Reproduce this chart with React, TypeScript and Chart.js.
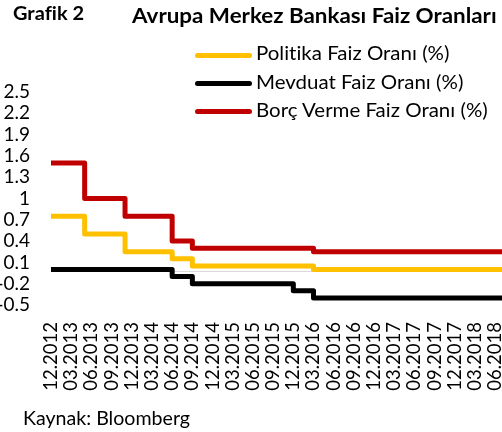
import React, { useEffect, useRef } from "react";
import { Chart, registerables } from "chart.js";

Chart.register(...registerables);

const FONT = "Lato, 'Noto Sans', sans-serif";

// Monthly categories: 12.2012 ... 07.2018
const START_YEAR = 2012;
const START_MONTH = 12;
const MONTH_COUNT = 68;
const MONTH_LABELS: string[] = [];
for (let i = 0; i < MONTH_COUNT; i++) {
  const m = ((START_MONTH - 1 + i) % 12) + 1;
  const y = START_YEAR + Math.floor((START_MONTH - 1 + i) / 12);
  MONTH_LABELS.push(String(m).padStart(2, "0") + "." + y);
}

const TICK_LABELS = [
  "12.2012", "03.2013", "06.2013", "09.2013", "12.2013", "03.2014", "06.2014",
  "09.2014", "12.2014", "03.2015", "06.2015", "09.2015", "12.2015", "03.2016",
  "06.2016", "09.2016", "12.2016", "03.2017", "06.2017", "09.2017", "12.2017",
  "03.2018", "06.2018",
];

const Y_TICKS = [-0.5, -0.2, 0.1, 0.4, 0.7, 1, 1.3, 1.6, 1.9, 2.2, 2.5];

// Politika Faiz Oranı (%)
const POLITIKA = [
  0.75, // Dec 2012
  0.75, 0.75, 0.75, 0.75, 0.5, 0.5, 0.5, 0.5, 0.5, 0.5, 0.25, 0.25, // 2013
  0.25, 0.25, 0.25, 0.25, 0.25, 0.15, 0.15, 0.15, 0.05, 0.05, 0.05, 0.05, // 2014
  0.05, 0.05, 0.05, 0.05, 0.05, 0.05, 0.05, 0.05, 0.05, 0.05, 0.05, 0.05, // 2015
  0.05, 0.05, 0, 0, 0, 0, 0, 0, 0, 0, 0, 0, // 2016
  0, 0, 0, 0, 0, 0, 0, 0, 0, 0, 0, 0, // 2017
  0, 0, 0, 0, 0, 0, 0, // 2018
];

// Mevduat Faiz Oranı (%)
const MEVDUAT = [
  0, // Dec 2012
  0, 0, 0, 0, 0, 0, 0, 0, 0, 0, 0, 0, // 2013
  0, 0, 0, 0, 0, -0.1, -0.1, -0.1, -0.2, -0.2, -0.2, -0.2, // 2014
  -0.2, -0.2, -0.2, -0.2, -0.2, -0.2, -0.2, -0.2, -0.2, -0.2, -0.2, -0.3, // 2015
  -0.3, -0.3, -0.4, -0.4, -0.4, -0.4, -0.4, -0.4, -0.4, -0.4, -0.4, -0.4, // 2016
  -0.4, -0.4, -0.4, -0.4, -0.4, -0.4, -0.4, -0.4, -0.4, -0.4, -0.4, -0.4, // 2017
  -0.4, -0.4, -0.4, -0.4, -0.4, -0.4, -0.4, // 2018
];

// Borç Verme Faiz Oranı (%)
const BORC = [
  1.5, // Dec 2012
  1.5, 1.5, 1.5, 1.5, 1.0, 1.0, 1.0, 1.0, 1.0, 1.0, 0.75, 0.75, // 2013
  0.75, 0.75, 0.75, 0.75, 0.75, 0.4, 0.4, 0.4, 0.3, 0.3, 0.3, 0.3, // 2014
  0.3, 0.3, 0.3, 0.3, 0.3, 0.3, 0.3, 0.3, 0.3, 0.3, 0.3, 0.3, // 2015
  0.3, 0.3, 0.25, 0.25, 0.25, 0.25, 0.25, 0.25, 0.25, 0.25, 0.25, 0.25, // 2016
  0.25, 0.25, 0.25, 0.25, 0.25, 0.25, 0.25, 0.25, 0.25, 0.25, 0.25, 0.25, // 2017
  0.25, 0.25, 0.25, 0.25, 0.25, 0.25, 0.25, // 2018
];

const SERIES = [
  { label: "Politika Faiz Oranı (%)", data: POLITIKA, color: "#FFC000" },
  { label: "Mevduat Faiz Oranı (%)", data: MEVDUAT, color: "#000000" },
  { label: "Borç Verme Faiz Oranı (%)", data: BORC, color: "#C00000" },
];

const zeroLine = {
  id: "zeroLine",
  beforeDatasetsDraw(chart: any) {
    const { ctx, chartArea, scales } = chart;
    const y = Math.round(scales.y.getPixelForValue(0)) + 1.5;
    ctx.save();
    ctx.strokeStyle = "#d9d9d9";
    ctx.lineWidth = 1;
    ctx.beginPath();
    ctx.moveTo(chartArea.left, y);
    ctx.lineTo(chartArea.right, y);
    ctx.stroke();
    ctx.restore();
  },
};

export default function App() {
  const ref = useRef<HTMLCanvasElement | null>(null);

  useEffect(() => {
    document.body.style.margin = "0";
    const canvas = ref.current;
    if (!canvas) return;
    const font = { family: FONT, size: 19 };
    const chart = new Chart(canvas, {
      type: "line",
      data: {
        labels: MONTH_LABELS,
        datasets: SERIES.map((s) => ({
          label: s.label,
          data: s.data,
          borderColor: s.color,
          backgroundColor: s.color,
          borderWidth: 5,
          borderJoinStyle: "round" as const,
          borderCapStyle: "butt" as const,
          stepped: "before" as const,
          pointRadius: 0,
          fill: false,
        })),
      },
      options: {
        animation: false,
        responsive: false,
        layout: { padding: { top: 92, left: 0, right: 0, bottom: 0 } },
        plugins: {
          legend: { display: false },
          tooltip: { enabled: false },
        },
        scales: {
          x: {
            type: "category",
            offset: false,
            grid: { display: false, drawTicks: false, tickLength: 0 },
            border: { display: false },
            ticks: {
              autoSkip: false,
              minRotation: 90,
              maxRotation: 90,
              padding: 17,
              color: "#000",
              font: { family: FONT, size: 18.5 },
              callback: (_v: any, i: number) =>
                TICK_LABELS.includes(MONTH_LABELS[i]) ? MONTH_LABELS[i] : "",
            },
            afterFit: (s: any) => {
              s.height = 127;
              s.paddingLeft = 0;
              s.paddingRight = 0;
            },
          },
          y: {
            type: "linear",
            min: -0.5,
            max: 2.5,
            grid: { display: false, drawTicks: false, tickLength: 0 },
            border: { display: false },
            afterBuildTicks: (s: any) => {
              s.ticks = Y_TICKS.map((v) => ({ value: v }));
            },
            ticks: {
              autoSkip: false,
              padding: 21,
              color: "#000",
              font,
              callback: (v: any) => String(Math.round(Number(v) * 10) / 10),
            },
            afterFit: (s: any) => {
              s.width = 51;
              s.paddingTop = 0;
              s.paddingBottom = 0;
            },
          },
        },
      },
      plugins: [zeroLine],
    });
    return () => chart.destroy();
  }, []);

  const text = (size: number, sx: number, bold = false): React.CSSProperties => ({
    position: "absolute",
    fontFamily: FONT,
    fontSize: size,
    fontWeight: bold ? 700 : 400,
    color: "#000",
    whiteSpace: "nowrap",
    lineHeight: 1,
    fontVariantLigatures: "none",
    transform: `scaleX(${sx})`,
    transformOrigin: "0 0",
  });

  const LEG_BASE = [60.7, 89, 117.4];

  return (
    <div style={{ position: "relative", width: 502, height: 432, background: "#fff", overflow: "hidden" }}>
      <canvas ref={ref} width={502} height={432} style={{ display: "block", width: 502, height: 432 }} />
      <div style={{ ...text(18.5, 1.08, true), left: 13, top: 3.6 }}>Grafik 2</div>
      <div style={{ ...text(21, 1.065, true), left: 132, top: 4.4 }}>
        Avrupa Merkez Bankası Faiz Oranları
      </div>
      {SERIES.map((s, i) => (
        <React.Fragment key={s.label}>
          <div
            style={{
              position: "absolute",
              left: 195,
              top: LEG_BASE[i] - 5.7 - 2.5,
              width: 57,
              height: 5,
              borderRadius: 3,
              background: s.color,
            }}
          />
          <div style={{ ...text(19.5, 1.05), left: 256, top: LEG_BASE[i] - 17.3 }}>{s.label}</div>
        </React.Fragment>
      ))}
      <div style={{ ...text(18.5, 1.06), left: 23, top: 408.6 }}>Kaynak: Bloomberg</div>
    </div>
  );
}
